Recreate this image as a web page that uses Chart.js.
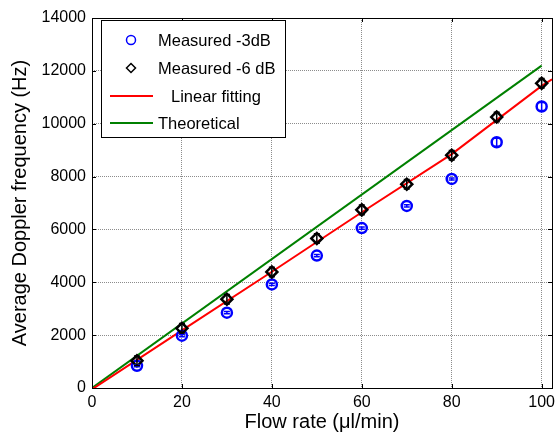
<!DOCTYPE html>
<html>
<head>
<meta charset="utf-8">
<script src="https://cdn.jsdelivr.net/npm/chart.js@4.4.0/dist/chart.umd.min.js"></script>
<style>
  html, body { margin: 0; padding: 0; background: #fff; }
  #wrap { width: 556px; height: 434px; }
</style>
</head>
<body>
<div id="wrap"><canvas id="chart"></canvas></div>
<script>
// flow rate (ul/min) and measured Doppler frequency (Hz)
const flowRate = [10, 20, 30, 40, 50, 60, 70, 80, 90, 100];
const measured3dB = [840, 1980, 2850, 3920, 5010, 6050, 6890, 7910, 9300, 10650];
const measured6dB = [1030, 2260, 3360, 4390, 5660, 6740, 7710, 8810, 10250, 11530];
const err3dB = [40, 40, 40, 40, 40, 40, 40, 40, 150, 150];
const err6dB = [180, 180, 180, 180, 180, 180, 180, 180, 180, 180];

const fitX = [0, 20, 40, 60, 80, 100, 102.3];
const fitY = [-50, 2180, 4400, 6650, 8850, 11430, 11680];
const theoryX = [0, 100];
const theoryY = [0, 12200];

const xTicks = [0, 20, 40, 60, 80, 100];
const yTicks = [0, 2000, 4000, 6000, 8000, 10000, 12000, 14000];

const labels = ["Measured -3dB", "Measured -6 dB", "Linear fitting", "Theoretical"];

const FONT = "'Liberation Sans', Arial, sans-serif";
const pts = (xs, ys) => xs.map((x, i) => ({ x: x, y: ys[i] }));

const matlabBits = {
  id: "matlabBits",
  afterDatasetsDraw(chart) {
    const ctx = chart.ctx;
    const xs = chart.scales.x, ys = chart.scales.y;
    const area = chart.chartArea;
    ctx.save();
    ctx.beginPath();
    ctx.rect(area.left, area.top, area.right - area.left, area.bottom - area.top);
    ctx.clip();
    [[measured3dB, err3dB, "#0000ff"], [measured6dB, err6dB, "#000000"]].forEach(([vals, errs, col]) => {
      ctx.strokeStyle = col;
      ctx.lineWidth = 1.5;
      flowRate.forEach((f, i) => {
        const px = xs.getPixelForValue(f);
        const y1 = ys.getPixelForValue(vals[i] - errs[i]);
        const y2 = ys.getPixelForValue(vals[i] + errs[i]);
        ctx.beginPath();
        ctx.moveTo(px, y1); ctx.lineTo(px, y2);
        ctx.moveTo(px - 3, y1); ctx.lineTo(px + 3, y1);
        ctx.moveTo(px - 3, y2); ctx.lineTo(px + 3, y2);
        ctx.stroke();
      });
    });
    ctx.restore();
  },
  afterDraw(chart) {
    const ctx = chart.ctx;
    const a = chart.chartArea;
    const xs = chart.scales.x, ys = chart.scales.y;
    ctx.save();
    // axes box
    ctx.strokeStyle = "#000";
    ctx.lineWidth = 1;
    ctx.strokeRect(Math.round(a.left) + 0.5, Math.round(a.top) + 0.5,
                   Math.round(a.right - a.left), Math.round(a.bottom - a.top));
    // inner ticks
    ctx.beginPath();
    xTicks.forEach(v => {
      const px = Math.round(xs.getPixelForValue(v)) + 0.5;
      ctx.moveTo(px, a.bottom); ctx.lineTo(px, a.bottom - 4);
      ctx.moveTo(px, a.top); ctx.lineTo(px, a.top + 4);
    });
    yTicks.forEach(v => {
      const py = Math.round(ys.getPixelForValue(v)) + 0.5;
      ctx.moveTo(a.left, py); ctx.lineTo(a.left + 4, py);
      ctx.moveTo(a.right, py); ctx.lineTo(a.right - 4, py);
    });
    ctx.stroke();

    // legend
    const bx = 101.5, by = 20.5, bw = 184, bh = 117;
    ctx.fillStyle = "#fff";
    ctx.fillRect(bx, by, bw, bh);
    ctx.strokeStyle = "#000";
    ctx.lineWidth = 1;
    ctx.strokeRect(bx, by, bw, bh);
    const rows = [40, 68, 96, 123];
    const textX = [158, 158, 171, 158];
    const ds = chart.data.datasets;
    ctx.font = "16.5px " + FONT;
    ctx.textBaseline = "middle";
    ctx.textAlign = "left";
    // circle
    ctx.strokeStyle = ds[0].borderColor;
    ctx.lineWidth = 1.5;
    ctx.beginPath(); ctx.arc(131, rows[0], 4.5, 0, Math.PI * 2); ctx.stroke();
    // diamond
    ctx.strokeStyle = ds[1].borderColor;
    ctx.beginPath();
    ctx.moveTo(131, rows[1] - 4.5); ctx.lineTo(135.5, rows[1]);
    ctx.lineTo(131, rows[1] + 4.5); ctx.lineTo(126.5, rows[1]); ctx.closePath();
    ctx.stroke();
    // lines
    [2, 3].forEach(i => {
      ctx.strokeStyle = ds[i].borderColor;
      ctx.lineWidth = 2;
      ctx.beginPath(); ctx.moveTo(110, rows[i]); ctx.lineTo(153, rows[i]); ctx.stroke();
    });
    ctx.fillStyle = "#000";
    ds.forEach((d, i) => ctx.fillText(d.label, textX[i], rows[i] + 1));
    ctx.restore();
  }
};

new Chart(document.getElementById("chart"), {
  type: "scatter",
  data: {
    datasets: [
      {
        label: labels[0],
        data: pts(flowRate, measured3dB),
        showLine: false,
        pointStyle: "circle",
        pointRadius: 5,
        pointBorderWidth: 2.5,
        borderColor: "#0000ff",
        backgroundColor: "rgba(0,0,0,0)",
        order: 1
      },
      {
        label: labels[1],
        data: pts(flowRate, measured6dB),
        showLine: false,
        pointStyle: "rectRot",
        pointRadius: 5.5,
        pointBorderWidth: 2.5,
        borderColor: "#000000",
        backgroundColor: "rgba(0,0,0,0)",
        order: 0
      },
      {
        label: labels[2],
        data: pts(fitX, fitY),
        showLine: true,
        pointRadius: 0,
        borderColor: "#ff0000",
        borderWidth: 2,
        order: 2
      },
      {
        label: labels[3],
        data: pts(theoryX, theoryY),
        showLine: true,
        pointRadius: 0,
        borderColor: "#008000",
        borderWidth: 2,
        order: 3
      }
    ]
  },
  options: {
    responsive: true,
    maintainAspectRatio: false,
    animation: false,
    layout: { autoPadding: false, padding: { left: 0, top: 18, right: 4, bottom: 0 } },
    plugins: {
      legend: { display: false },
      tooltip: { enabled: false }
    },
    scales: {
      x: {
        type: "linear",
        min: 0,
        max: 102.3,
        afterBuildTicks: s => { s.ticks = xTicks.map(v => ({ value: v })); },
        afterFit: s => { s.height = 46; s.paddingLeft = 0; s.paddingRight = 0; },
        ticks: {
          color: "#000",
          padding: 5,
          maxRotation: 0,
          font: { family: FONT, size: 16 },
          callback: v => String(v)
        },
        grid: { color: "#8c8c8c", lineWidth: 1, drawTicks: false },
        border: { display: false, dash: [1, 1] },
        title: {
          display: true,
          text: "Flow rate (\u03bcl/min)",
          color: "#000",
          font: { family: FONT, size: 20 },
          padding: { top: 0, bottom: 0 }
        }
      },
      y: {
        type: "linear",
        min: 0,
        max: 14000,
        afterBuildTicks: s => { s.ticks = yTicks.map(v => ({ value: v })); },
        afterFit: s => { s.width = 92; s.paddingTop = 0; s.paddingBottom = 0; },
        ticks: {
          color: "#000",
          padding: 6,
          font: { family: FONT, size: 16 },
          callback: v => String(v)
        },
        grid: { color: "#8c8c8c", lineWidth: 1, drawTicks: false },
        border: { display: false, dash: [1, 1] },
        title: {
          display: true,
          text: "Average Doppler frequency (Hz)",
          color: "#000",
          font: { family: FONT, size: 20 },
          padding: { top: 8, bottom: 0 }
        }
      }
    }
  },
  plugins: [matlabBits]
});
</script>
</body>
</html>
